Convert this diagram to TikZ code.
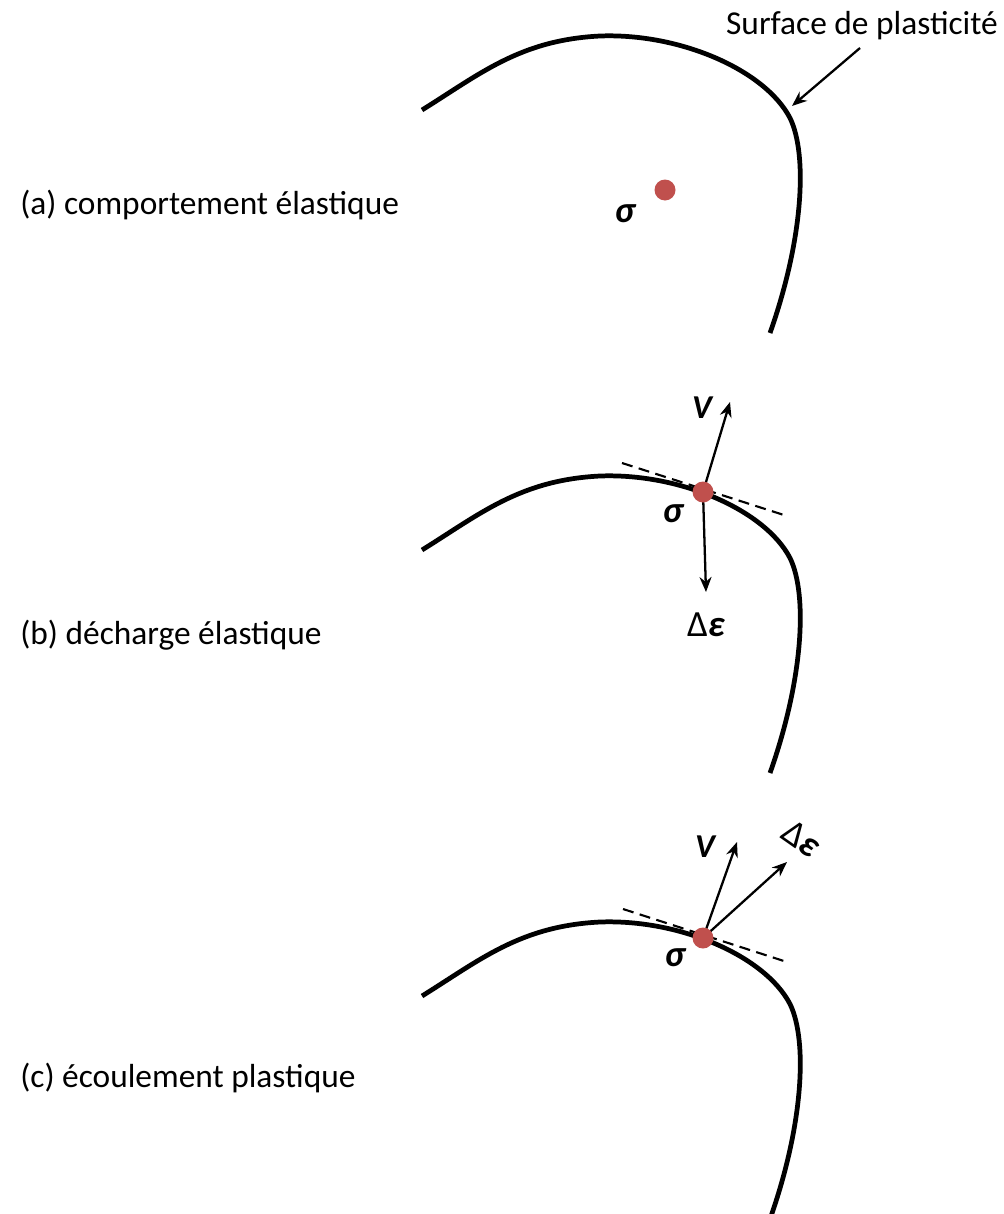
\documentclass[tikz,border=0pt]{standalone}
\usepackage{fontspec}
\setmainfont{Carlito}
\usetikzlibrary{arrows.meta}
\definecolor{dotred}{RGB}{192,80,77}
\tikzset{
  surface/.style={line width=2.7pt},
  vect/.style={line width=1.3pt,-{Stealth[length=3mm,width=2.4mm]}},
  tangent/.style={line width=1.2pt,dash pattern=on 2.2mm off 1.3mm},
  sdot/.style={circle,fill=dotred,inner sep=0pt,minimum size=4.2mm},
  sym/.style={font=\fontsize{21}{24}\selectfont\bfseries\itshape,inner sep=0pt},
  caption/.style={anchor=west,inner sep=0pt,font=\fontsize{19}{22}\selectfont}
}
% yield surface, shifted down by #1 px
\newcommand{\yieldcurve}[1]{%
  \draw[surface,shift={(0,#1)}] (422,110) .. controls (480,74) and (520,40) .. (600,36)
    .. controls (680,33) and (765,70) .. (790,118)
    .. controls (808,155) and (803,240) .. (770,333);}
\begin{document}
\begin{tikzpicture}[x=0.02cm,y=-0.02cm]
        % Definition
        \pgfmathsetmacro{\db}{440}
        \pgfmathsetmacro{\dc}{886}
        \useasboundingbox (0,0) rectangle (1004,1214);

        % Coordinates
        \coordinate (tip) at (792,106);
        \coordinate (pa) at (665,190);
        \coordinate (pb) at (703,492);
        \coordinate (pc) at (703,938);

        % Draw the surfaces
        \yieldcurve{0}
        \yieldcurve{\db}
        \yieldcurve{\dc}

        % Surface label
        \node[caption,anchor=south] (surf) at (862,40) {Surface de plasticité};
        \draw[vect] (surf.south) ++(-2,8) coordinate (s0) -- (tip);

        % (a) elastic behaviour
        \node[caption] (la) at (20,205) {(a) comportement élastique};
        \node[sdot] (sa) at (pa) {};
        \node[sym] (siga) at ([shift={(-40,24)}]pa) {σ};

        % (b) elastic unloading
        \node[caption] (lb) at (20,635) {(b) décharge élastique};
        \draw[tangent] ([shift={(-81,-29)}]pb) -- ([shift={(84,24)}]pb);
        \coordinate (vb) at ([shift={(27,-90)}]pb);
        \coordinate (eb) at ([shift={(3,100)}]pb);
        \draw[vect] (pb) -- (vb);
        \draw[vect] (pb) -- (eb);
        \node[sdot] (sb) at (pb) {};
        \node[sym] (sigb) at ([shift={(-30,22)}]pb) {σ};
        \node[sym,font=\fontsize{19}{22}\selectfont\bfseries\itshape] (Vb) at ([shift={(-1,-84)}]pb) {V};
        \node[sym] (deb) at ([shift={(3,133)}]pb) {{\upshape\mdseries Δ}ε};

        % (c) plastic flow
        \node[caption] (lc) at (20,1078) {(c) écoulement plastique};
        \draw[tangent] ([shift={(-80,-29)}]pc) -- ([shift={(84,24)}]pc);
        \coordinate (vc) at ([shift={(34,-96)}]pc);
        \coordinate (ec) at ([shift={(84,-76)}]pc);
        \draw[vect] (pc) -- (vc);
        \draw[vect] (pc) -- (ec);
        \node[sdot] (sc) at (pc) {};
        \node[sym] (sigc) at ([shift={(-28,20)}]pc) {σ};
        \node[sym,font=\fontsize{19}{22}\selectfont\bfseries\itshape] (Vc) at ([shift={(2,-91)}]pc) {V};
        \node[sym,rotate=-35] (dec) at ([shift={(99,-99)}]pc) {{\upshape\mdseries Δ}ε};
      \end{tikzpicture}
\end{document}
